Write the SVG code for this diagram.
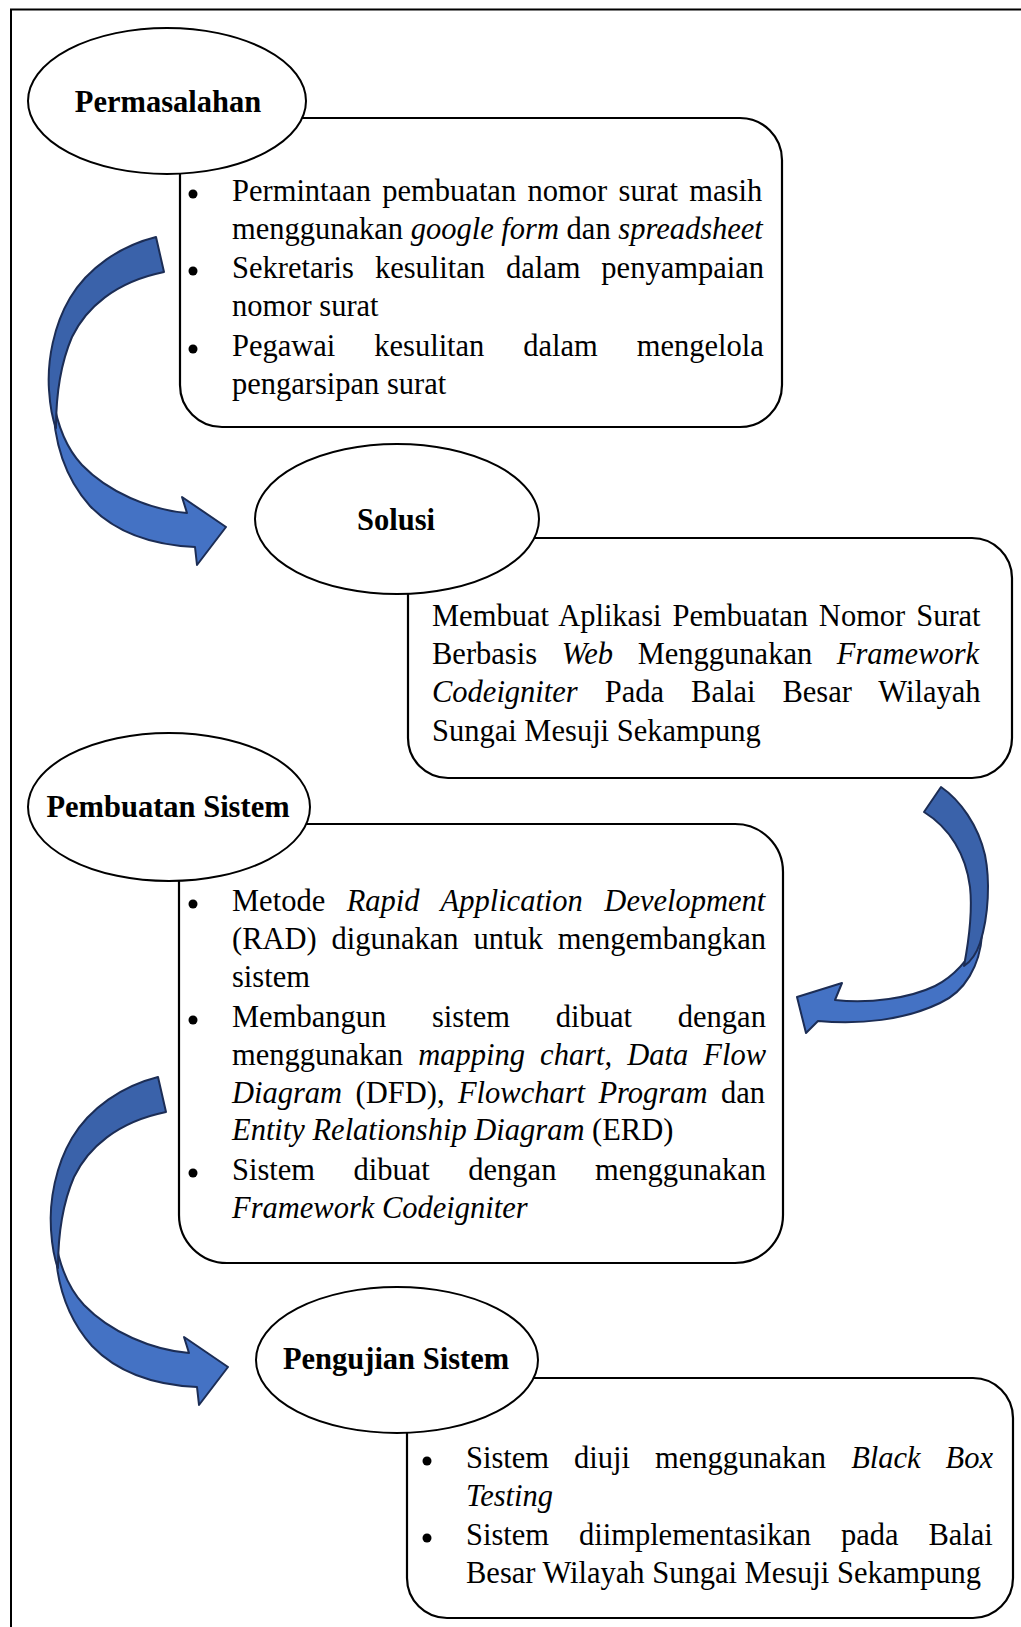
<svg xmlns="http://www.w3.org/2000/svg" width="1021" height="1627" viewBox="0 0 1021 1627">
<style>
.frame{fill:none;stroke:#000;stroke-width:2}
.box{fill:#fff;stroke:#000;stroke-width:2.2}
.ell{fill:#fff;stroke:#000;stroke-width:2}
.t{font-family:"Liberation Serif","Times New Roman",serif;font-size:30.5px;fill:#000}
.title{font-weight:bold;text-anchor:middle}
.i{font-style:italic}
.bul{fill:#000}
.back{fill:#3A62AA;stroke:#1C2D55;stroke-width:2;stroke-linejoin:round}
.front{fill:#4472C4;stroke:#1C2D55;stroke-width:2;stroke-linejoin:round}
</style>
<defs>
<g id="curvedRight">
<path class="front" d="M53,398 C53,440 65,478 90,506 C115,532 150,545 195,547 L197,565 L226,527 L182,497 L187,513 C150,510 108,492 82,465 C68,450 58,430 53,398 Z"/>
<path class="back" d="M156,237 C120,246 88,268 70,298 C54,325 47,360 49,390 C50,405 52,418 56,428 C56,400 60,365 72,337 C86,308 115,282 164,272 Z"/>
</g>
</defs>
<rect width="1021" height="1627" fill="#fff"/>
<rect class="frame" x="11" y="9.5" width="1040" height="1650"/>

<g id="connectors">
<use id="arrow-permasalahan-solusi" href="#curvedRight"/>
<g id="arrow-solusi-pembuatan">
<path class="front" d="M982,935 C980,965 965,992 940,1003 C905,1020 860,1025 818,1021 L806,1033 L797,997 L842,983 L835,1000 C870,1004 910,998 935,986 C955,976 970,958 982,935 Z"/>
<path class="back" d="M941,787 C960,800 978,825 985,855 C990,880 989,915 980,943 C976,955 970,962 964,966 C968,945 973,915 970,887 C966,855 950,828 924,812 Z"/>
</g>
<use id="arrow-pembuatan-pengujian" href="#curvedRight" transform="translate(2,840)"/>
</g>

<g id="node-permasalahan">
<rect class="box" x="180" y="118" width="602" height="309" rx="42"/>
<ellipse class="ell" cx="167" cy="101" rx="139" ry="73"/>
<text class="t title" x="168" y="112">Permasalahan</text>
<circle class="bul" cx="193" cy="194" r="4.5"/>
<circle class="bul" cx="193" cy="271" r="4.5"/>
<circle class="bul" cx="193" cy="349" r="4.5"/>
<text class="t" x="232" y="201" style="word-spacing:3.8px">Permintaan pembuatan nomor surat masih</text>
<text class="t" x="232" y="239">menggunakan <tspan class="i">google form</tspan> dan <tspan class="i">spreadsheet</tspan></text>
<text class="t" x="232" y="278" style="word-spacing:13.3px">Sekretaris kesulitan dalam penyampaian</text>
<text class="t" x="232" y="316">nomor surat</text>
<text class="t" x="232" y="356" style="word-spacing:31.3px">Pegawai kesulitan dalam mengelola</text>
<text class="t" x="232" y="394">pengarsipan surat</text>
</g>

<g id="node-solusi">
<rect class="box" x="408" y="538" width="604" height="240" rx="40"/>
<ellipse class="ell" cx="397" cy="519" rx="142" ry="75"/>
<text class="t title" x="396" y="530">Solusi</text>
<text class="t" x="432" y="626" style="word-spacing:3.3px">Membuat Aplikasi Pembuatan Nomor Surat</text>
<text class="t" x="432" y="664" style="word-spacing:17px">Berbasis <tspan class="i">Web</tspan> Menggunakan <tspan class="i">Framework</tspan></text>
<text class="t" x="432" y="702" style="word-spacing:19.4px"><tspan class="i">Codeigniter</tspan> Pada Balai Besar Wilayah</text>
<text class="t" x="432" y="741">Sungai Mesuji Sekampung</text>
</g>

<g id="node-pembuatan-sistem">
<rect class="box" x="179" y="824" width="604" height="439" rx="48"/>
<ellipse class="ell" cx="169" cy="807" rx="141" ry="74"/>
<text class="t title" x="168" y="817">Pembuatan Sistem</text>
<circle class="bul" cx="193" cy="904" r="4.5"/>
<circle class="bul" cx="193" cy="1020" r="4.5"/>
<circle class="bul" cx="193" cy="1173" r="4.5"/>
<text class="t" x="232" y="911" style="word-spacing:13.9px">Metode <tspan class="i">Rapid Application Development</tspan></text>
<text class="t" x="232" y="949" style="word-spacing:7.2px">(RAD) digunakan untuk mengembangkan</text>
<text class="t" x="232" y="987">sistem</text>
<text class="t" x="232" y="1027" style="word-spacing:38.2px">Membangun sistem dibuat dengan</text>
<text class="t" x="232" y="1065" style="word-spacing:7.5px">menggunakan <tspan class="i">mapping chart, Data Flow</tspan></text>
<text class="t" x="232" y="1103" style="word-spacing:5.8px"><tspan class="i">Diagram</tspan> (DFD), <tspan class="i">Flowchart Program</tspan> dan</text>
<text class="t" x="232" y="1140"><tspan class="i">Entity Relationship Diagram</tspan> (ERD)</text>
<text class="t" x="232" y="1180" style="word-spacing:30.9px">Sistem dibuat dengan menggunakan</text>
<text class="t i" x="232" y="1218">Framework Codeigniter</text>
</g>

<g id="node-pengujian-sistem">
<rect class="box" x="407" y="1378" width="606" height="240" rx="40"/>
<ellipse class="ell" cx="397" cy="1360" rx="141" ry="73"/>
<text class="t title" x="396" y="1369">Pengujian Sistem</text>
<circle class="bul" cx="427" cy="1461" r="4.5"/>
<circle class="bul" cx="427" cy="1538" r="4.5"/>
<text class="t" x="466" y="1468" style="word-spacing:17.4px">Sistem diuji menggunakan <tspan class="i">Black Box</tspan></text>
<text class="t i" x="466" y="1506">Testing</text>
<text class="t" x="466" y="1545" style="word-spacing:22.3px">Sistem diimplementasikan pada Balai</text>
<text class="t" x="466" y="1583">Besar Wilayah Sungai Mesuji Sekampung</text>
</g>
</svg>
